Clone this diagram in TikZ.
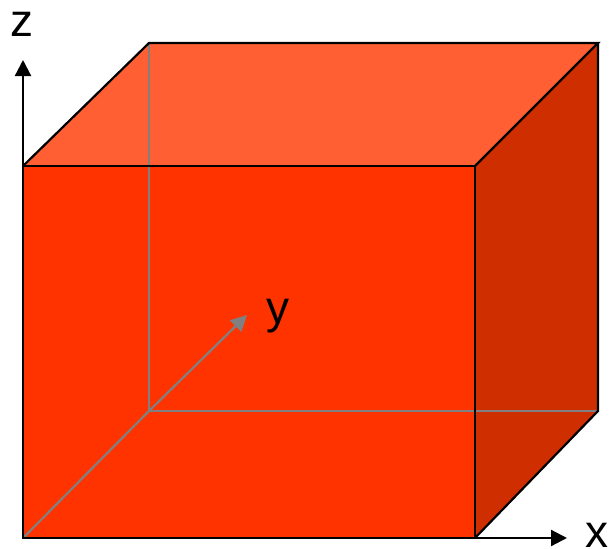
\documentclass[tikz,border=0pt]{standalone}
\usepackage{fontspec}
\setmainfont{Liberation Sans}
\usetikzlibrary{arrows.meta}
\definecolor{frontc}{RGB}{255,51,0}
\definecolor{topc}{RGB}{255,95,51}
\definecolor{sidec}{RGB}{207,46,0}
\definecolor{hidc}{RGB}{128,128,128}
\tikzset{
  edge/.style={draw=black,line width=2.2pt,line join=miter},
  hidden/.style={draw=hidc,line width=2.2pt},
  tip/.style={-{Triangle[length=16pt,width=16pt]}},
  axis/.style={line width=2.2pt,tip},
  lab/.style={font=\fontsize{46}{46}\selectfont,inner sep=0pt,anchor=base}
}
\begin{document}
\begin{tikzpicture}[x=1pt,y=-1pt]
\useasboundingbox (0,0) rectangle (614,549);
% corners
\coordinate (A) at (23,538);   % front bottom left
\coordinate (B) at (475,538);  % front bottom right
\coordinate (C) at (475,166);  % front top right
\coordinate (D) at (23,166);   % front top left
\coordinate (E) at (149,411);  % back bottom left (hidden)
\coordinate (F) at (598,411);  % back bottom right
\coordinate (G) at (598,43);   % back top right
\coordinate (H) at (149,43);   % back top left
\coordinate (ztip) at (23,60);
\coordinate (xtip) at (567,538);
\coordinate (ytip) at (247,315);
% faces
\fill[topc] (D) -- (C) -- (G) -- (H) -- cycle;
\fill[sidec] (B) -- (F) -- (G) -- (C) -- cycle;
\fill[frontc] (A) -- (B) -- (C) -- (D) -- cycle;
% hidden edges
\draw[hidden] (E) -- (H);
\draw[hidden] (E) -- (F);
\draw[hidden] (A) -- (E);
\draw[hidden,tip] (E) -- (ytip);
% visible edges
\draw[edge] (A) -- (B) -- (C) -- (D) -- cycle;
\draw[edge] (D) -- (H) -- (G) -- (C);
\draw[edge] (G) -- (F) -- (B);
% axes
\draw[axis] (D) -- (ztip);
\draw[axis] (B) -- (xtip);
\node[lab] (zl) at (22,36) {z};
\node[lab] (xl) at (597,547) {x};
\node[lab] (yl) at (278,323) {y};
\end{tikzpicture}
\end{document}
